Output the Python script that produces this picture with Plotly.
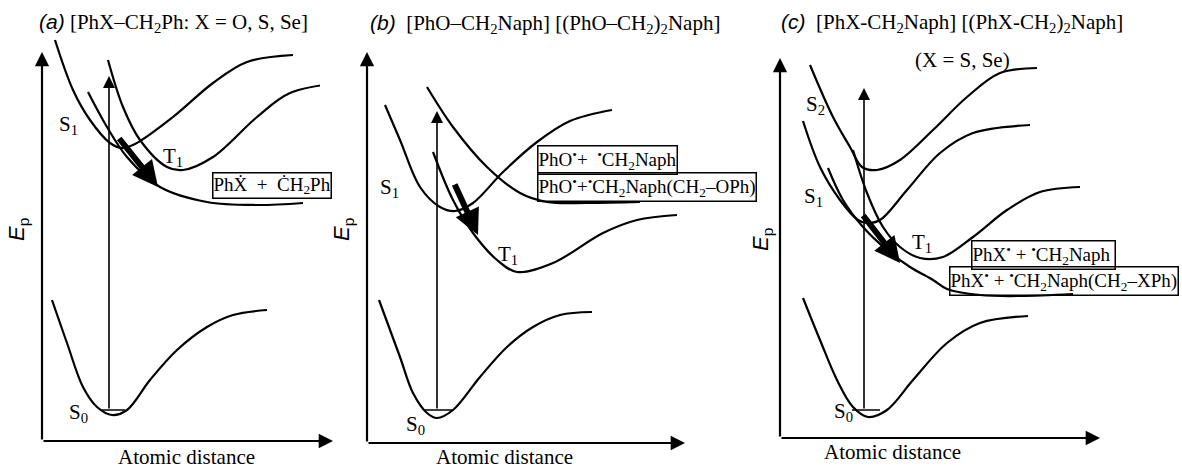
import plotly.graph_objects as go

# ---------------- data (panel-local units: distance u, energy E) ----------------
# Panel (a)
a_S1_u = [13, 31, 48, 68, 80, 93, 131, 171, 205, 251]
a_S1_E = [401, 351, 321, 298, 293, 297, 324, 358, 379, 386]
a_T1_u = [66, 81, 98, 125, 141, 171, 215, 248, 298]
a_T1_E = [381, 334, 301, 274, 271, 284, 324, 348, 358]
a_D_u = [46, 65, 85, 118, 165, 215, 261]
a_D_E = [349, 314, 284, 254, 239, 236, 238]
a_S0_u = [10, 25, 41, 55, 70, 85, 108, 135, 165, 191, 225]
a_S0_E = [141, 98, 54, 34, 26, 31, 61, 91, 114, 126, 131]

# Panel (b)
b_S1_u = [18, 33, 53, 73, 88, 106, 136, 170, 203, 245]
b_S1_E = [338, 303, 256, 236, 232, 240, 271, 301, 322, 333]
b_D_u = [60, 86, 120, 153, 180, 220, 273]
b_D_E = [356, 316, 276, 250, 241, 240, 241]
b_T1_u = [66, 86, 106, 130, 150, 186, 236, 270, 310]
b_T1_E = [291, 243, 210, 183, 171, 180, 210, 223, 228]
b_S0_u = [12, 33, 46, 60, 70, 86, 113, 140, 166, 193, 225]
b_S0_E = [143, 86, 50, 30, 25, 33, 66, 96, 116, 128, 131]

# Panel (c)
c_S2_u = [30, 53, 70, 82, 97, 120, 153, 187, 220, 257]
c_S2_E = [373, 321, 291, 271, 268, 278, 308, 341, 365, 370]
c_S1_u = [23, 40, 60, 78, 87, 100, 127, 160, 193, 250]
c_S1_E = [317, 271, 238, 218, 215, 218, 248, 285, 305, 313]
c_T1_u = [73, 87, 103, 120, 140, 163, 193, 227, 260, 300]
c_T1_E = [288, 245, 211, 191, 180, 181, 201, 228, 246, 251]
c_D_u = [48, 63, 83, 107, 130, 153, 167, 200, 240, 293]
c_D_E = [270, 238, 211, 188, 171, 158, 149, 143, 142, 144]
c_S0_u = [23, 40, 57, 73, 88, 107, 133, 167, 200, 248]
c_S0_E = [140, 98, 58, 31, 21, 28, 58, 95, 115, 122]

# excitation arrows (u, E_bottom, E_top), zero-point levels (u_left, u_right, E)
excite = {"a": (67, 31, 365), "b": (70, 33, 332), "c": (84, 28, 350)}
zero_level = {"a": (58, 83, 31), "b": (56, 85, 33), "c": (72, 100, 28)}
# thick relaxation arrows (u_start, E_start, u_tip, E_tip)
relax = {"a": (76, 304, 116, 254), "b": (87, 260, 111, 208), "c": (82, 224, 120, 175)}

titles = {
    "a": "<span style='font-family:Liberation Sans'><i>(a)</i></span> [PhX–CH<sub>2</sub>Ph: X = O, S, Se]",
    "b": "<span style='font-family:Liberation Sans'><i>(b)</i></span>  [PhO–CH<sub>2</sub>Naph] [(PhO–CH<sub>2</sub>)<sub>2</sub>Naph]",
    "c": "<span style='font-family:Liberation Sans'><i>(c)</i></span>  [PhX-CH<sub>2</sub>Naph] [(PhX-CH<sub>2</sub>)<sub>2</sub>Naph]",
}
box_texts = {
    "a": ["PhẊ  +  ĊH<sub>2</sub>Ph"],
    "b": ["PhO<sup>•</sup>+  <sup>•</sup>CH<sub>2</sub>Naph",
          "PhO<sup>•</sup>+<sup>•</sup>CH<sub>2</sub>Naph(CH<sub>2</sub>–OPh)"],
    "c": ["PhX<sup>•</sup> + <sup>•</sup>CH<sub>2</sub>Naph ",
          "PhX<sup>•</sup> + <sup>•</sup>CH<sub>2</sub>Naph(CH<sub>2</sub>–XPh)"],
}

# ---------------- layout helpers ----------------
W, H = 1182, 470
panels = {
    # key: (axis suffix, pixel left, pixel right, origin x px, origin y px, x-axis len, y-axis len)
    "a": ("", 0, 360, 42, 441, 291, 389),
    "b": ("2", 320, 775, 367, 443, 318, 391),
    "c": ("3", 735, 1182, 780, 438, 320, 380),
}

fig = go.Figure()
SERIF = "Liberation Serif"
SANS = "Liberation Sans"
annotations = []

curves = {
    "a": [(a_S1_u, a_S1_E), (a_T1_u, a_T1_E), (a_D_u, a_D_E), (a_S0_u, a_S0_E)],
    "b": [(b_S1_u, b_S1_E), (b_D_u, b_D_E), (b_T1_u, b_T1_E), (b_S0_u, b_S0_E)],
    "c": [(c_S2_u, c_S2_E), (c_S1_u, c_S1_E), (c_T1_u, c_T1_E), (c_D_u, c_D_E), (c_S0_u, c_S0_E)],
}

labels = {
    "a": [("S<sub>1</sub>", 26, 316), ("T<sub>1</sub>", 131, 284), ("S<sub>0</sub>", 36, 28)],
    "b": [("S<sub>1</sub>", 22, 255), ("T<sub>1</sub>", 141, 188), ("S<sub>0</sub>", 48, 18)],
    "c": [("S<sub>2</sub>", 35, 333), ("S<sub>1</sub>", 33, 241), ("T<sub>1</sub>", 142, 195), ("S<sub>0</sub>", 63, 26)],
}
box_pos = {"a": [(230, 256)], "b": [(240, 283), (280, 256)], "c": [(263, 183), (284, 157)]}
ep_pos = {"a": (-24, 211), "b": (-24, 213), "c": (-18, 198)}
dist_pos = {"a": (144, -16), "b": (137, -14), "c": (112, -14)}
title_pos = {"a": (-5, 418), "b": (1, 419), "c": (-1, 415)}

layout_axes = {}
for key, (suf, pl, pr, ox, oy, xlen, ylen) in panels.items():
    xa, ya = "x" + suf, "y" + suf
    layout_axes["xaxis" + suf] = dict(domain=[pl / W, pr / W], range=[pl - ox, pr - ox],
                                      visible=False, anchor=ya)
    layout_axes["yaxis" + suf] = dict(domain=[0, 1], range=[oy - H, oy], visible=False, anchor=xa)

    for u, e in curves[key]:
        fig.add_trace(go.Scatter(x=u, y=e, mode="lines", xaxis=xa, yaxis=ya,
                                 line=dict(color="black", width=2.2, shape="spline", smoothing=1.0),
                                 hoverinfo="skip", showlegend=False))
    zl = zero_level[key]
    fig.add_trace(go.Scatter(x=[zl[0], zl[1]], y=[zl[2], zl[2]], mode="lines", xaxis=xa, yaxis=ya,
                             line=dict(color="black", width=1.5), hoverinfo="skip", showlegend=False))

    def arrow(x0, y0, x1, y1, width, head=1, size=1.0):
        annotations.append(dict(x=x1, y=y1, ax=x0, ay=y0, xref=xa, yref=ya, axref=xa, ayref=ya,
                                showarrow=True, arrowhead=head, arrowwidth=width, arrowsize=size,
                                arrowcolor="black", text="", standoff=0, startstandoff=0))

    # coordinate axes
    arrow(0, 0, 0, ylen, 2.2, head=2, size=1.3)
    arrow(0, 0, xlen, 0, 2.2, head=2, size=1.3)
    # vertical excitation
    ex = excite[key]
    arrow(ex[0], ex[1], ex[0], ex[2], 1.6, head=2, size=1.5)
    # thick relaxation arrow
    r = relax[key]
    arrow(r[0], r[1], r[2], r[3], 6, head=2, size=0.85)

    for txt, u, e in labels[key]:
        annotations.append(dict(x=u, y=e, xref=xa, yref=ya, text=txt, showarrow=False,
                                font=dict(family=SERIF, size=21, color="black")))
    for txt, (u, e) in zip(box_texts[key], box_pos[key]):
        annotations.append(dict(x=u, y=e, xref=xa, yref=ya, text=txt, showarrow=False,
                                font=dict(family=SERIF, size=19, color="black"),
                                bordercolor="black", borderwidth=1.5, borderpad=0))
    annotations.append(dict(x=ep_pos[key][0], y=ep_pos[key][1], xref=xa, yref=ya,
                            text="<i>E</i><sub>p</sub>", showarrow=False, textangle=-90,
                            font=dict(family=SANS, size=22, color="black")))
    annotations.append(dict(x=dist_pos[key][0], y=dist_pos[key][1], xref=xa, yref=ya,
                            text="Atomic distance", showarrow=False,
                            font=dict(family=SERIF, size=21, color="black")))
    annotations.append(dict(x=title_pos[key][0], y=title_pos[key][1], xref=xa, yref=ya,
                            text=titles[key], showarrow=False, xanchor="left",
                            font=dict(family=SERIF, size=21, color="black")))

annotations.append(dict(x=182, y=378, xref="x3", yref="y3", text="(X = S, Se)", showarrow=False,
                        font=dict(family=SERIF, size=21, color="black")))

fig.update_layout(width=W, height=H, margin=dict(l=0, r=0, t=0, b=0),
                  paper_bgcolor="white", plot_bgcolor="white",
                  annotations=annotations, showlegend=False, **layout_axes)

fig.write_html("out.html")
